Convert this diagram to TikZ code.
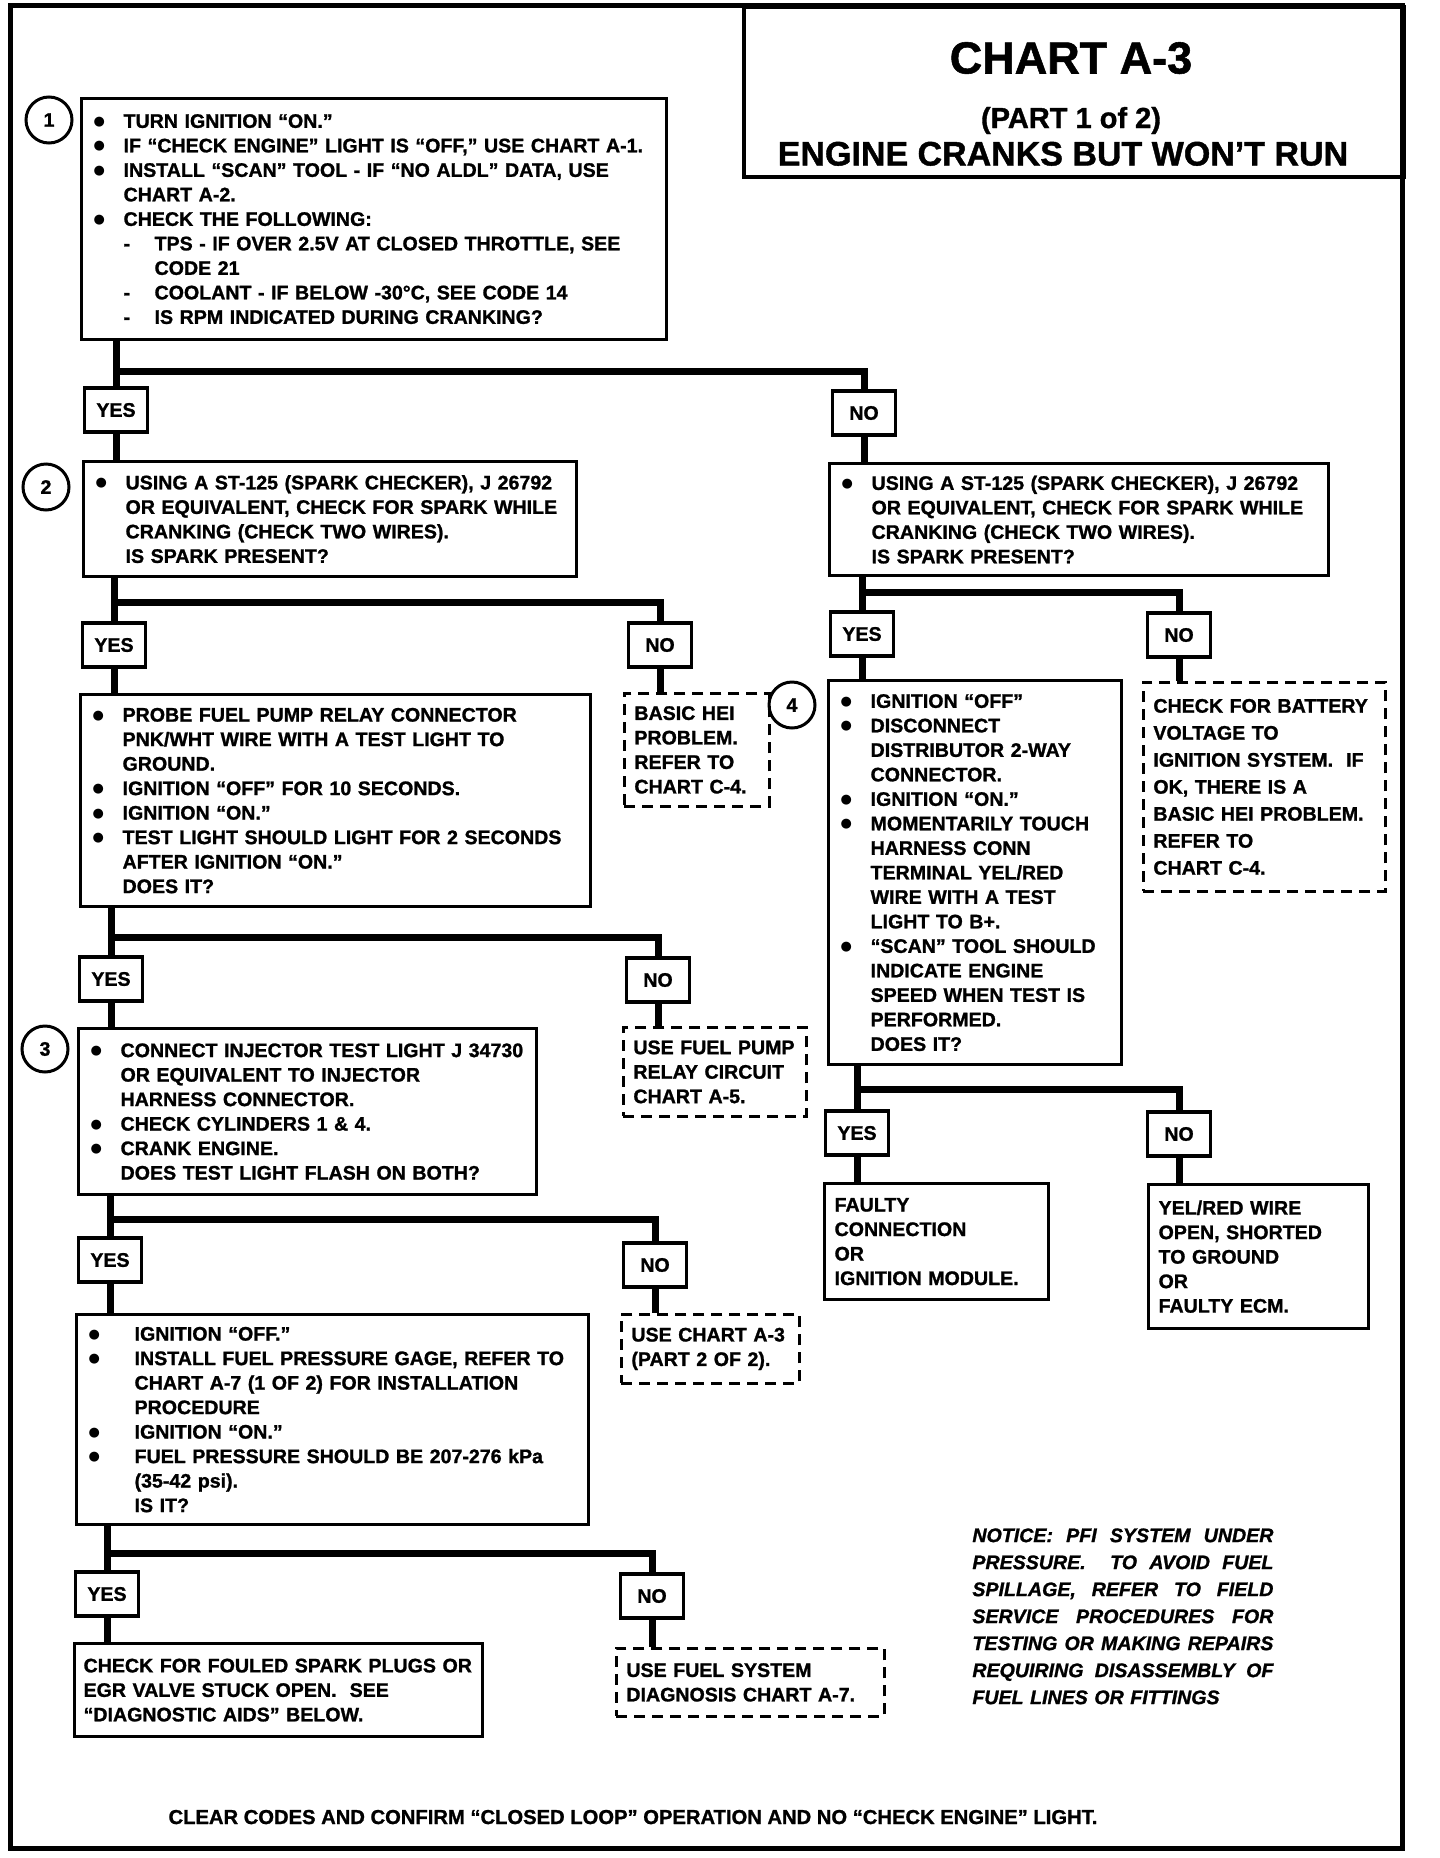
\documentclass[tikz,border=0pt]{standalone}
\usepackage{fontspec}
\setmainfont{Liberation Sans}[BoldFeatures={FakeBold=1.2}, BoldItalicFeatures={FakeBold=1.2}]
\newfontfamily\symfont{DejaVu Sans}
\usepackage{tikz}
\usetikzlibrary{positioning, calc}
\tikzstyle{block} = [rectangle, draw, line width=1.6pt, anchor=north west, align=left, inner xsep=6pt, inner ysep=0pt]
\tikzstyle{plainblock} = [block, inner xsep=5pt]
\tikzstyle{dashblock} = [plainblock, line width=1.4pt, dash pattern=on 5.5pt off 3.5pt]
\tikzstyle{answer} = [rectangle, draw, line width=1.6pt, minimum width=31.5pt, minimum height=22pt, inner sep=0pt]
\tikzstyle{stepnum} = [circle, draw, line width=1.5pt, minimum size=23pt, inner sep=0pt]
\tikzstyle{connector} = [line width=3.5pt]
\newcommand{\dotmark}{\raisebox{1.2pt}{\fontsize{6.5}{0}\selectfont\symfont ●}}
\newcommand{\itm}{\makebox[15pt][l]{\dotmark}}
\newcommand{\ind}{\hspace*{15pt}}
\newcommand{\subitm}{\hspace*{15pt}\makebox[15.5pt][l]{-}}
\newcommand{\subind}{\hspace*{30.5pt}}
\newcommand{\itmw}{\makebox[23pt][l]{\dotmark}}
\newcommand{\indw}{\hspace*{23pt}}
\newcommand{\just}[1]{\makebox[150.5pt][s]{#1}}
\begin{document}
\begin{tikzpicture}[x=0.5pt, y=-0.5pt, font=\fontsize{9.8}{12.25}\selectfont\bfseries]
    \useasboundingbox (0,0) rectangle (1440,1858);
    \draw[line width=2.5pt] (10,5) rectangle (1402,1848);

    % Title
    \node[draw, line width=2pt, minimum width=330pt, minimum height=85pt, anchor=north west] (title) at (742,5) {};
    \node[font=\fontsize{22.5}{27}\selectfont\bfseries, anchor=base] (chart) at (1071,73.5) {CHART A-3};
    \node[font=\fontsize{14.5}{17}\selectfont\bfseries, anchor=base] (part) at (1071,128) {(PART 1 of 2)};
    \node[font=\fontsize{17}{20}\selectfont\bfseries, anchor=base] (heading) at (1063,165.5) {ENGINE CRANKS BUT WON’T RUN};

    % Step 1
    \node[stepnum] (s1) at (49,120) {1};
    \node[block, minimum width=292.5pt, minimum height=120.5pt, text width=280.5pt] (start) at (80,97) {
        \itm TURN IGNITION “ON.”\\
        \itm IF “CHECK ENGINE” LIGHT IS “OFF,” USE CHART A-1.\\
        \itm INSTALL “SCAN” TOOL - IF “NO ALDL” DATA, USE\\
        \ind CHART A-2.\\
        \itm CHECK THE FOLLOWING:\\
        \subitm TPS - IF OVER 2.5V AT CLOSED THROTTLE, SEE\\
        \subind CODE 21\\
        \subitm COOLANT - IF BELOW -30°C, SEE CODE 14\\
        \subitm IS RPM INDICATED DURING CRANKING?};
    \node[answer] (yesA) at (116,410) {YES};
    \node[answer] (noA) at (864,413) {NO};
    \coordinate (jA) at (0,371);

    % Step 2, left and right
    \node[stepnum] (s2) at (46,487) {2};
    \node[block, minimum width=246.5pt, minimum height=57.5pt, text width=234.5pt] (sparkL) at (82,460) {
        \itm USING A ST-125 (SPARK CHECKER), J 26792\\
        \ind OR EQUIVALENT, CHECK FOR SPARK WHILE\\
        \ind CRANKING (CHECK TWO WIRES).\\
        \ind IS SPARK PRESENT?};
    \node[block, minimum width=249.5pt, minimum height=56pt, text width=237.5pt] (sparkR) at (828,462) {
        \itm USING A ST-125 (SPARK CHECKER), J 26792\\
        \ind OR EQUIVALENT, CHECK FOR SPARK WHILE\\
        \ind CRANKING (CHECK TWO WIRES).\\
        \ind IS SPARK PRESENT?};
    \node[answer] (yesB) at (114,645) {YES};
    \node[answer] (noB) at (660,645) {NO};
    \coordinate (jB) at (0,602);
    \node[answer] (yesC) at (862,634) {YES};
    \node[answer] (noC) at (1179,635) {NO};
    \coordinate (jC) at (0,592);

    % Relay test and HEI
    \node[block, minimum width=255pt, minimum height=106pt, text width=243pt] (relay) at (79,693) {
        \itm PROBE FUEL PUMP RELAY CONNECTOR\\
        \ind PNK/WHT WIRE WITH A TEST LIGHT TO\\
        \ind GROUND.\\
        \itm IGNITION “OFF” FOR 10 SECONDS.\\
        \itm IGNITION “ON.”\\
        \itm TEST LIGHT SHOULD LIGHT FOR 2 SECONDS\\
        \ind AFTER IGNITION “ON.”\\
        \ind DOES IT?};
    \node[dashblock, minimum width=72.5pt, minimum height=56.5pt, text width=62.5pt] (hei) at (623,692) {
        BASIC HEI\\ PROBLEM.\\ REFER TO\\ CHART C-4.};
    \node[stepnum] (s4) at (792,705) {4};
    \node[block, minimum width=146.5pt, minimum height=192pt, text width=134.5pt] (ignoff) at (827,679) {
        \itm IGNITION “OFF”\\
        \itm DISCONNECT\\
        \ind DISTRIBUTOR 2-WAY\\
        \ind CONNECTOR.\\
        \itm IGNITION “ON.”\\
        \itm MOMENTARILY TOUCH\\
        \ind HARNESS CONN\\
        \ind TERMINAL YEL/RED\\
        \ind WIRE WITH A TEST\\
        \ind LIGHT TO B+.\\
        \itm “SCAN” TOOL SHOULD\\
        \ind INDICATE ENGINE\\
        \ind SPEED WHEN TEST IS\\
        \ind PERFORMED.\\
        \ind DOES IT?};
    \node[dashblock, minimum width=121pt, minimum height=104.5pt, text width=111pt, font=\fontsize{9.8}{13.5}\selectfont\bfseries] (battery) at (1142,681) {
        CHECK FOR BATTERY\\ VOLTAGE TO\\ IGNITION SYSTEM.\ \ IF\\ OK, THERE IS A\\ BASIC HEI PROBLEM.\\ REFER TO\\ CHART C-4.};
    \node[answer] (yesD) at (111,979) {YES};
    \node[answer] (noD) at (658,980) {NO};
    \coordinate (jD) at (0,937);
    \node[answer] (yesE) at (857,1133) {YES};
    \node[answer] (noE) at (1179,1134) {NO};
    \coordinate (jE) at (0,1089);

    % Step 3
    \node[stepnum] (s3) at (45,1049) {3};
    \node[block, minimum width=229pt, minimum height=83pt, text width=217pt] (injector) at (77,1027) {
        \itm CONNECT INJECTOR TEST LIGHT J 34730\\
        \ind OR EQUIVALENT TO INJECTOR\\
        \ind HARNESS CONNECTOR.\\
        \itm CHECK CYLINDERS 1 \& 4.\\
        \itm CRANK ENGINE.\\
        \ind DOES TEST LIGHT FLASH ON BOTH?};
    \node[dashblock, minimum width=91.5pt, minimum height=44.5pt, text width=81.5pt] (pumpckt) at (622,1026) {
        USE FUEL PUMP\\ RELAY CIRCUIT\\ CHART A-5.};
    \node[block, inner xsep=5pt, minimum width=112pt, minimum height=58pt, text width=102pt] (faulty) at (823,1182) {
        FAULTY\\ CONNECTION\\ OR\\ IGNITION MODULE.};
    \node[block, inner xsep=5pt, minimum width=110pt, minimum height=72pt, text width=100pt] (yelred) at (1147,1183) {
        YEL/RED WIRE\\ OPEN, SHORTED\\ TO GROUND\\ OR\\ FAULTY ECM.};
    \node[answer] (yesF) at (110,1260) {YES};
    \node[answer] (noF) at (655,1265) {NO};
    \coordinate (jF) at (0,1219);

    % Fuel pressure
    \node[block, minimum width=256pt, minimum height=105pt, text width=244pt] (gage) at (75,1313) {
        \itmw IGNITION “OFF.”\\
        \itmw INSTALL FUEL PRESSURE GAGE, REFER TO\\
        \indw CHART A-7 (1 OF 2) FOR INSTALLATION\\
        \indw PROCEDURE\\
        \itmw IGNITION “ON.”\\
        \itmw FUEL PRESSURE SHOULD BE 207-276 kPa\\
        \indw (35-42 psi).\\
        \indw IS IT?};
    \node[dashblock, minimum width=89pt, minimum height=34.5pt, text width=79pt] (partb) at (620,1313) {
        USE CHART A-3\\ (PART 2 OF 2).};
    \node[answer] (yesG) at (107,1594) {YES};
    \node[answer] (noG) at (652,1596) {NO};
    \coordinate (jG) at (0,1553);
    \node[block, inner xsep=4.5pt, minimum width=204pt, minimum height=46.5pt, text width=195pt] (fouled) at (73,1642) {
        CHECK FOR FOULED SPARK PLUGS OR\\ EGR VALVE STUCK OPEN.\ \ SEE\\ “DIAGNOSTIC AIDS” BELOW.};
    \node[dashblock, minimum width=134pt, minimum height=34pt, text width=124pt] (fuelsys) at (615,1647) {
        USE FUEL SYSTEM\\ DIAGNOSIS CHART A-7.};

    % Notice and footer
    \node[anchor=north west, inner sep=0pt, text width=150.5pt, align=left, font=\fontsize{9.8}{13.5}\selectfont\bfseries\itshape] (notice) at (972,1528) {
        \just{NOTICE:\hfill PFI\hfill SYSTEM\hfill UNDER}\\
        \just{PRESSURE.\hfill\hfill TO\hfill AVOID\hfill FUEL}\\
        \just{SPILLAGE,\hfill REFER\hfill TO\hfill FIELD}\\
        \just{SERVICE\hfill PROCEDURES\hfill FOR}\\
        \just{TESTING\hfill OR\hfill MAKING\hfill REPAIRS}\\
        \just{REQUIRING\hfill DISASSEMBLY\hfill OF}\\
        FUEL LINES OR FITTINGS};
    \node[anchor=base, font=\fontsize{10.1}{12}\selectfont\bfseries] (clear) at (633,1824) {CLEAR CODES AND CONFIRM “CLOSED LOOP” OPERATION AND NO “CHECK ENGINE” LIGHT.};

    % Connectors
    \draw[connector] (start.south -| yesA) -- (yesA.north);
    \draw[connector] (yesA.south) -- (yesA |- sparkL.north);
    \draw[connector] (yesA |- jA) -| (noA.north);
    \draw[connector] (noA.south) -- (noA |- sparkR.north);

    \draw[connector] (sparkL.south -| yesB) -- (yesB.north);
    \draw[connector] (yesB.south) -- (yesB |- relay.north);
    \draw[connector] (yesB |- jB) -| (noB.north);
    \draw[connector] (noB.south) -- (noB |- hei.north);

    \draw[connector] (sparkR.south -| yesC) -- (yesC.north);
    \draw[connector] (yesC.south) -- (yesC |- ignoff.north);
    \draw[connector] (yesC |- jC) -| (noC.north);
    \draw[connector] (noC.south) -- (noC |- battery.north);

    \draw[connector] (relay.south -| yesD) -- (yesD.north);
    \draw[connector] (yesD.south) -- (yesD |- injector.north);
    \draw[connector] (yesD |- jD) -| (noD.north);
    \draw[connector] (noD.south) -- (noD |- pumpckt.north);

    \draw[connector] (ignoff.south -| yesE) -- (yesE.north);
    \draw[connector] (yesE.south) -- (yesE |- faulty.north);
    \draw[connector] (yesE |- jE) -| (noE.north);
    \draw[connector] (noE.south) -- (noE |- yelred.north);

    \draw[connector] (injector.south -| yesF) -- (yesF.north);
    \draw[connector] (yesF.south) -- (yesF |- gage.north);
    \draw[connector] (yesF |- jF) -| (noF.north);
    \draw[connector] (noF.south) -- (noF |- partb.north);

    \draw[connector] (gage.south -| yesG) -- (yesG.north);
    \draw[connector] (yesG.south) -- (yesG |- fouled.north);
    \draw[connector] (yesG |- jG) -| (noG.north);
    \draw[connector] (noG.south) -- (noG |- fuelsys.north);

\end{tikzpicture}
\end{document}
